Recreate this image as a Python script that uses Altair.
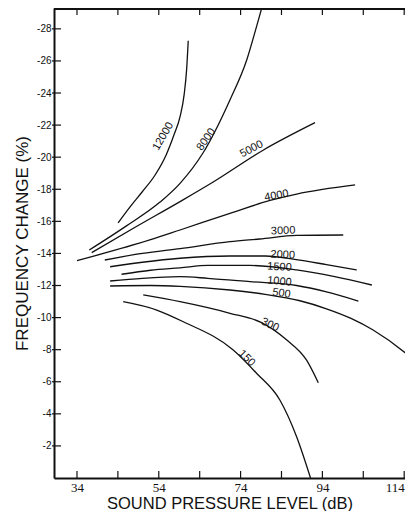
import altair as alt
import pandas as pd

# ---- curve data (SPL in dB, frequency change in %) ----
c12000_x = [44.05, 46.98, 49.92, 53.1, 55.8, 57.7, 59.2, 60.2, 60.8, 61.2]
c12000_y = [-15.9, -16.9, -17.83, -18.89, -20.14, -21.38, -22.53, -23.9, -25.44, -27.26]

c8000_x = [37.0, 46.0, 54.3, 59.2, 64.8, 71.4, 75.5, 77.9, 79.4]
c8000_y = [-14.21, -15.7, -17.2, -18.37, -20.26, -23.57, -26.06, -28.14, -29.5]

c5000_x = [37.6, 48.0, 59.2, 67.3, 79.6, 92.2]
c5000_y = [-14.05, -15.6, -17.23, -18.45, -20.45, -22.15]

c4000_x = [34.0, 51.8, 59.2, 71.4, 81.2, 87.7, 102.0]
c4000_y = [-13.55, -14.84, -15.46, -16.5, -17.3, -17.7, -18.27]

c3000_x = [40.8, 50.0, 59.2, 71.4, 78.7, 87.7, 99.1]
c3000_y = [-13.59, -14.0, -14.3, -14.73, -14.9, -15.12, -15.15]

c2000_x = [42.1, 50.0, 59.2, 71.4, 80.0, 88.0, 95.0, 102.4]
c2000_y = [-13.17, -13.45, -13.7, -13.84, -13.84, -13.6, -13.3, -12.97]

c1500_x = [44.9, 52.0, 59.2, 66.0, 76.3, 87.7, 97.0, 106.1]
c1500_y = [-12.7, -12.95, -13.1, -13.25, -13.25, -12.97, -12.55, -12.03]

c1000_x = [42.1, 50.0, 59.2, 66.0, 76.3, 87.7, 95.0, 102.8]
c1000_y = [-12.28, -12.45, -12.55, -12.45, -12.24, -12.0, -11.6, -11.03]

c500_x = [42.1, 52.0, 59.2, 71.4, 80.0, 88.5, 95.0, 101.0, 106.4, 115.4, 117.0]
c500_y = [-11.97, -12.0, -11.95, -11.72, -11.45, -11.05, -10.55, -9.95, -9.23, -7.56, -7.2]

c300_x = [50.2, 59.2, 71.4, 79.0, 85.3, 90.1, 93.0]
c300_y = [-11.41, -10.99, -10.27, -9.7, -8.6, -7.36, -5.94]

c150_x = [45.3, 53.5, 60.0, 72.2, 77.9, 83.6, 87.7, 91.1]
c150_y = [-10.99, -10.47, -9.74, -7.98, -6.53, -4.86, -2.57, 0.0]

curve_names = ["12000", "8000", "5000", "4000", "3000", "2000", "1500", "1000", "500", "300", "150"]
curve_xs = [c12000_x, c8000_x, c5000_x, c4000_x, c3000_x, c2000_x, c1500_x, c1000_x, c500_x, c300_x, c150_x]
curve_ys = [c12000_y, c8000_y, c5000_y, c4000_y, c3000_y, c2000_y, c1500_y, c1000_y, c500_y, c300_y, c150_y]

# ---- curve labels ----
label_text = ["12000", "8000", "5000", "4000", "3000", "2000", "1500", "1000", "500", "300", "150"]
label_x = [55.1, 65.6, 76.7, 82.8, 84.4, 84.3, 83.5, 83.5, 84.0, 81.2, 75.5]
label_y = [-21.3, -21.1, -20.5, -17.6, -15.4, -13.9, -13.14, -12.24, -11.5, -9.54, -7.46]
label_angle = [300, 305, 332, 350, 357, 3, 3, 5, 8, 25, 45]

# ---- axis ticks ----
x_tick_labels = [34, 54, 74, 94, 114]
x_ticks = [34, 44, 54, 64, 74, 84, 94, 104, 114]
y_ticks = [-2, -4, -6, -8, -10, -12, -14, -16, -18, -20, -22, -24, -26, -28]

W, H = 351, 470
X_DOM = [28.38, 114.2]
Y_DOM = [0, -29.3]

rows = []
for name, xs, ys in zip(curve_names, curve_xs, curve_ys):
    for i, (a, b) in enumerate(zip(xs, ys)):
        rows.append({"curve": name, "spl": a, "fc": b, "i": i})
df = pd.DataFrame(rows)

lab = pd.DataFrame({"t": label_text, "spl": label_x, "fc": label_y, "ang": label_angle})
xt = pd.DataFrame({"v": x_ticks})
yt = pd.DataFrame({"v": y_ticks})

xscale = alt.Scale(domain=X_DOM, nice=False, zero=False)
yscale = alt.Scale(domain=Y_DOM, nice=False, zero=False)

xaxis = alt.Axis(
    values=x_tick_labels, ticks=False, grid=False, domain=True, domainWidth=2, domainColor="#111",
    labelFont="Liberation Serif", labelFontSize=13, labelColor="#111", labelPadding=3,
    labelFlush=6, labelOverlap=False,
    title="SOUND PRESSURE LEVEL (dB)", titleFont="Liberation Sans", titleFontSize=16.5,
    titleFontWeight="normal", titleColor="#111", titlePadding=1,
)
yaxis = alt.Axis(
    values=y_ticks, ticks=False, grid=False, domain=True, domainWidth=2, domainColor="#111",
    labelFont="Liberation Sans", labelFontSize=10, labelColor="#111", labelPadding=3,
    labelOverlap=False, labelBound=False, labelExpr="'-' + (-datum.value)",
    title="FREQUENCY CHANGE (%)", titleFont="Liberation Sans", titleFontSize=17,
    titleFontWeight="normal", titleColor="#111", titlePadding=5,
)

X = lambda f: alt.X(f, type="quantitative", scale=xscale, axis=xaxis)
Y = lambda f: alt.Y(f, type="quantitative", scale=yscale, axis=yaxis)

lines = alt.Chart(df).mark_line(color="#111", strokeWidth=1.3, interpolate="monotone", clip=True).encode(
    x=X("spl"), y=Y("fc"), detail="curve:N", order="i:Q",
)

labels = alt.Chart(lab).mark_text(font="Liberation Sans", fontSize=11, color="#111").encode(
    x=X("spl"), y=Y("fc"), text="t:N", angle=alt.Angle("ang:Q", scale=None),
)

bot_ticks = alt.Chart(xt).mark_rule(color="#111", strokeWidth=1.2).encode(
    x=X("v"), y=alt.value(H), y2=alt.value(H - 7))
top_ticks = alt.Chart(xt).mark_rule(color="#111", strokeWidth=1.2).encode(
    x=X("v"), y=alt.value(0), y2=alt.value(7))
left_ticks = alt.Chart(yt).mark_rule(color="#111", strokeWidth=1.2).encode(
    y=Y("v"), x=alt.value(-2), x2=alt.value(7))
top_line = alt.Chart(xt).mark_rule(color="#111", strokeWidth=1.8).encode(
    x=alt.value(0), x2=alt.value(W), y=alt.value(1))

chart = alt.layer(lines, labels, bot_ticks, top_ticks, left_ticks, top_line).properties(
    width=W, height=H,
    autosize=alt.AutoSizeParams(type="none"),
    padding={"left": 46, "top": 0, "right": 0, "bottom": 33},
    background="white",
).configure_view(stroke=None).configure_axis(labelOverlap=False)

chart.save("out.html", embed_options={"renderer": "svg", "actions": False})
